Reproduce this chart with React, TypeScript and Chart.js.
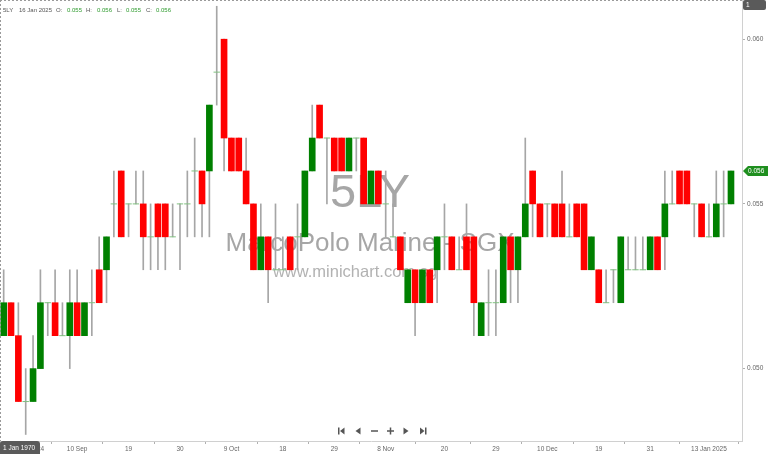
import React, { useEffect, useRef } from "react";
import { Chart, registerables } from "chart.js";
Chart.register(...registerables);

// OHLC prices, one per trading day (27 Aug 2024 .. 16 Jan 2025)
const opens = [
  0.051, 0.052, 0.051, 0.049, 0.049, 0.05, 0.052, 0.052, 0.051, 0.051,
  0.052, 0.051, 0.052, 0.053, 0.053, 0.055, 0.056, 0.055, 0.055, 0.055,
  0.054, 0.055, 0.055, 0.054, 0.055, 0.055, 0.056, 0.056, 0.056, 0.059,
  0.06, 0.057, 0.057, 0.056, 0.055, 0.053, 0.054, 0.053, 0.053, 0.054,
  0.054, 0.054, 0.056, 0.058, 0.057, 0.057, 0.057, 0.056, 0.057, 0.057,
  0.055, 0.056, 0.055, 0.054, 0.054, 0.052, 0.053, 0.052, 0.053, 0.053,
  0.054, 0.054, 0.053, 0.054, 0.054, 0.051, 0.052, 0.052, 0.052, 0.054,
  0.053, 0.054, 0.056, 0.055, 0.055, 0.055, 0.055, 0.054, 0.055, 0.055,
  0.053, 0.053, 0.052, 0.053, 0.052, 0.053, 0.053, 0.053, 0.053, 0.054,
  0.054, 0.055, 0.056, 0.056, 0.055, 0.055, 0.054, 0.054, 0.055, 0.055,
];
const highs = [
  0.053, 0.052, 0.052, 0.05, 0.051, 0.053, 0.052, 0.053, 0.052, 0.053,
  0.053, 0.052, 0.053, 0.054, 0.054, 0.056, 0.056, 0.055, 0.056, 0.056,
  0.055, 0.055, 0.055, 0.055, 0.055, 0.056, 0.057, 0.056, 0.058, 0.061,
  0.06, 0.057, 0.057, 0.057, 0.055, 0.055, 0.054, 0.055, 0.054, 0.054,
  0.055, 0.056, 0.058, 0.058, 0.057, 0.057, 0.057, 0.057, 0.057, 0.057,
  0.056, 0.056, 0.056, 0.055, 0.054, 0.053, 0.053, 0.053, 0.053, 0.054,
  0.055, 0.054, 0.054, 0.055, 0.054, 0.052, 0.053, 0.053, 0.054, 0.054,
  0.054, 0.057, 0.056, 0.055, 0.055, 0.055, 0.056, 0.055, 0.055, 0.055,
  0.054, 0.053, 0.053, 0.053, 0.054, 0.054, 0.054, 0.054, 0.054, 0.054,
  0.056, 0.056, 0.056, 0.056, 0.055, 0.055, 0.055, 0.056, 0.056, 0.056,
];
const lows = [
  0.051, 0.051, 0.049, 0.048, 0.049, 0.05, 0.051, 0.051, 0.051, 0.05,
  0.051, 0.051, 0.051, 0.052, 0.052, 0.054, 0.054, 0.054, 0.055, 0.053,
  0.053, 0.053, 0.053, 0.054, 0.053, 0.054, 0.054, 0.054, 0.054, 0.058,
  0.056, 0.056, 0.056, 0.055, 0.053, 0.053, 0.052, 0.053, 0.053, 0.053,
  0.053, 0.054, 0.056, 0.057, 0.055, 0.056, 0.056, 0.056, 0.056, 0.055,
  0.055, 0.055, 0.054, 0.054, 0.053, 0.052, 0.051, 0.052, 0.052, 0.052,
  0.053, 0.053, 0.053, 0.053, 0.051, 0.051, 0.051, 0.051, 0.052, 0.052,
  0.052, 0.054, 0.054, 0.054, 0.054, 0.054, 0.054, 0.054, 0.054, 0.053,
  0.053, 0.052, 0.052, 0.052, 0.052, 0.053, 0.053, 0.053, 0.053, 0.053,
  0.053, 0.055, 0.055, 0.055, 0.054, 0.054, 0.054, 0.054, 0.054, 0.055,
];
const closes = [
  0.052, 0.051, 0.049, 0.049, 0.05, 0.052, 0.052, 0.051, 0.051, 0.052,
  0.051, 0.052, 0.052, 0.052, 0.054, 0.055, 0.054, 0.055, 0.055, 0.054,
  0.054, 0.054, 0.054, 0.054, 0.055, 0.055, 0.056, 0.055, 0.058, 0.059,
  0.057, 0.056, 0.056, 0.055, 0.053, 0.054, 0.053, 0.053, 0.053, 0.053,
  0.054, 0.056, 0.057, 0.057, 0.057, 0.056, 0.056, 0.057, 0.057, 0.055,
  0.056, 0.055, 0.055, 0.054, 0.053, 0.053, 0.052, 0.053, 0.052, 0.054,
  0.054, 0.053, 0.053, 0.053, 0.052, 0.052, 0.052, 0.052, 0.054, 0.053,
  0.054, 0.055, 0.055, 0.054, 0.055, 0.054, 0.054, 0.054, 0.054, 0.053,
  0.054, 0.052, 0.052, 0.053, 0.054, 0.053, 0.053, 0.053, 0.054, 0.053,
  0.055, 0.055, 0.055, 0.055, 0.055, 0.054, 0.054, 0.055, 0.055, 0.056,
];

// x-axis tick labels and the candle index they sit under
const xTickIndex = [3, 10, 17, 24, 31, 38, 45, 52, 60, 67, 74, 81, 88, 96];
const xTickLabels = ["30 Aug 2024", "10 Sep", "19", "30", "9 Oct", "18", "29", "8 Nov", "20", "29", "10 Dec", "19", "31", "13 Jan 2025"];
const yTickValues = [0.05, 0.055, 0.06];

const symbol = "5LY";
const lastDate = "16 Jan 2025";
const companyName = "MarcoPolo Marine - SGX";
const website = "www.minichart.com.sg";

const GREEN = "#008000";
const RED = "#ff0000";
const FONT = "'Liberation Sans'";

const overlay = {
  id: "overlay",
  beforeDatasetsDraw(chart: any) {
    const { ctx } = chart;
    ctx.save();
    ctx.textAlign = "center";
    ctx.textBaseline = "alphabetic";
    ctx.fillStyle = "rgba(150,150,150,0.85)";
    ctx.font = "47px 'Liberation Sans'";
    ctx.fillText(symbol, 370, 207);
    ctx.font = "26px 'Liberation Sans'";
    ctx.fillText(companyName, 370, 251);
    ctx.fillStyle = "rgba(165,165,165,0.85)";
    ctx.font = "16.5px 'Liberation Sans'";
    ctx.fillText(website, 355, 277);
    ctx.restore();
  },
  afterDraw(chart: any) {
    const { ctx, chartArea } = chart;
    const n = closes.length - 1;
    ctx.save();
    // dashed borders top & left
    ctx.strokeStyle = "#9a9a9a";
    ctx.lineWidth = 1;
    ctx.setLineDash([2, 2]);
    ctx.beginPath();
    ctx.moveTo(0, 0.5);
    ctx.lineTo(chartArea.right, 0.5);
    ctx.moveTo(0.5, 0);
    ctx.lineTo(0.5, chartArea.bottom);
    ctx.stroke();
    ctx.setLineDash([]);

    // header
    ctx.font = `6px ${FONT}`;
    ctx.textBaseline = "middle";
    ctx.textAlign = "left";
    const hy = 10;
    const parts: [string, number, string][] = [
      [symbol, 3, "#555"],
      [lastDate, 19, "#555"],
      ["O:", 56, "#555"],
      [opens[n].toFixed(3), 67, GREEN],
      ["H:", 86, "#555"],
      [highs[n].toFixed(3), 97, GREEN],
      ["L:", 117, "#555"],
      [lows[n].toFixed(3), 126, GREEN],
      ["C:", 146, "#555"],
      [closes[n].toFixed(3), 156, GREEN],
    ];
    parts.forEach(([t, x, c]) => {
      ctx.fillStyle = c === GREEN ? "#2e9b2e" : c;
      ctx.fillText(t, x, hy);
    });

    // top-right box
    ctx.font = `6.5px ${FONT}`;
    ctx.fillStyle = "#5a5a5a";
    ctx.beginPath();
    (ctx as any).roundRect(743, 0, 23, 10, 2);
    ctx.fill();
    ctx.fillStyle = "#fff";
    ctx.fillText("1", 746, 5.5);

    // last price tag
    const ys = chart.scales.y.getPixelForValue(closes[n]);
    ctx.fillStyle = "#1f8f1f";
    ctx.beginPath();
    ctx.moveTo(743, ys);
    ctx.lineTo(748, ys - 5);
    ctx.lineTo(768, ys - 5);
    ctx.lineTo(768, ys + 5);
    ctx.lineTo(748, ys + 5);
    ctx.closePath();
    ctx.fill();
    ctx.fillStyle = "#fff";
    ctx.fillText(closes[n].toFixed(3), 748, ys + 0.5);

    // bottom-left date box
    ctx.fillStyle = "#5a5a5a";
    ctx.beginPath();
    (ctx as any).roundRect(0, chartArea.bottom, 40, 454 - chartArea.bottom, [3, 3, 0, 0]);
    ctx.fill();
    ctx.fillStyle = "#fff";
    ctx.fillText("1 Jan 1970", 3, chartArea.bottom + 7);

    // navigation icons
    ctx.fillStyle = "#555";
    const ny = 431;
    ctx.fillRect(338, ny - 3.5, 1.5, 7);
    ctx.beginPath();
    ctx.moveTo(340, ny); ctx.lineTo(344.5, ny - 3.5); ctx.lineTo(344.5, ny + 3.5); ctx.closePath(); ctx.fill();
    ctx.beginPath();
    ctx.moveTo(355.5, ny); ctx.lineTo(360.5, ny - 3.5); ctx.lineTo(360.5, ny + 3.5); ctx.closePath(); ctx.fill();
    ctx.fillRect(371, ny - 0.75, 7, 1.5);
    ctx.fillRect(387, ny - 0.75, 7, 1.5);
    ctx.fillRect(389.75, ny - 3.5, 1.5, 7);
    ctx.beginPath();
    ctx.moveTo(408.5, ny); ctx.lineTo(403.5, ny - 3.5); ctx.lineTo(403.5, ny + 3.5); ctx.closePath(); ctx.fill();
    ctx.beginPath();
    ctx.moveTo(424.5, ny); ctx.lineTo(420, ny - 3.5); ctx.lineTo(420, ny + 3.5); ctx.closePath(); ctx.fill();
    ctx.fillRect(425, ny - 3.5, 1.5, 7);
    ctx.restore();
  },
};

export default function App() {
  const ref = useRef<HTMLCanvasElement | null>(null);
  useEffect(() => {
    document.body.style.margin = "0";
    const idx = closes.map((_, i) => i);
    const wicks = idx.map((i) => (highs[i] > lows[i] ? { x: i, y: [lows[i], highs[i]] } : null)).filter(Boolean);
    const bodies = idx
      .map((i) => (opens[i] !== closes[i] ? { x: i, y: [opens[i], closes[i]] } : null))
      .filter(Boolean) as any[];
    const bodyColors = bodies.map((b) => (b.y[1] > b.y[0] ? GREEN : RED));
    const dojis = idx.filter((i) => opens[i] === closes[i]).map((i) => ({ x: i, y: opens[i] }));

    const chart = new Chart(ref.current as HTMLCanvasElement, {
      type: "bar",
      data: {
        datasets: [
          {
            type: "bar",
            data: bodies,
            backgroundColor: bodyColors,
            barThickness: 6,
            grouped: false,
            order: 0,
          } as any,
          {
            type: "scatter",
            data: dojis,
            pointStyle: "line",
            pointRadius: 3.2,
            borderColor: "#80c080",
            borderWidth: 1,
            order: 1,
          } as any,
          {
            type: "bar",
            data: wicks,
            backgroundColor: "#a6a6a6",
            barThickness: 1,
            grouped: false,
            order: 2,
          } as any,
        ],
      },
      options: {
        responsive: false,
        animation: false,
        maintainAspectRatio: false,
        layout: { padding: 0, autoPadding: false },
        plugins: { legend: { display: false }, tooltip: { enabled: false } },
        scales: {
          x: {
            type: "linear",
            offset: false,
            min: -0.5,
            max: 100.5,
            afterBuildTicks: (s: any) => {
              s.ticks = xTickIndex.map((v) => ({ value: v }));
            },
            afterFit: (s: any) => {
              s.height = 13;
              s.paddingLeft = 0;
              s.paddingRight = 0;
            },
            ticks: {
              autoSkip: false,
              maxRotation: 0,
              padding: 1,
              color: "#666",
              font: { family: FONT, size: 6.5 },
              callback: (v: any) => {
                const k = xTickIndex.indexOf(Number(v));
                return k >= 0 ? xTickLabels[k] : "";
              },
            },
            grid: { drawOnChartArea: false, tickLength: 3, color: "#b0b0b0" },
            border: { display: true, color: "#d0d0d0" },
          },
          y: {
            type: "linear",
            position: "right",
            min: 0.047802,
            max: 0.06119,
            afterBuildTicks: (s: any) => {
              s.ticks = yTickValues.map((v) => ({ value: v }));
            },
            afterFit: (s: any) => {
              s.width = 26;
              s.paddingTop = 0;
              s.paddingBottom = 0;
            },
            ticks: {
              padding: 2,
              color: "#666",
              font: { family: FONT, size: 6.5 },
              callback: (v: any) => Number(v).toFixed(3),
            },
            grid: { drawOnChartArea: false, tickLength: 3, color: "#b0b0b0" },
            border: { display: true, color: "#d0d0d0" },
          },
        },
      },
      plugins: [overlay],
    });
    return () => chart.destroy();
  }, []);
  return (
    <div style={{ width: 768, height: 454 }}>
      <canvas ref={ref} width={768} height={454} style={{ display: "block" }} />
    </div>
  );
}
